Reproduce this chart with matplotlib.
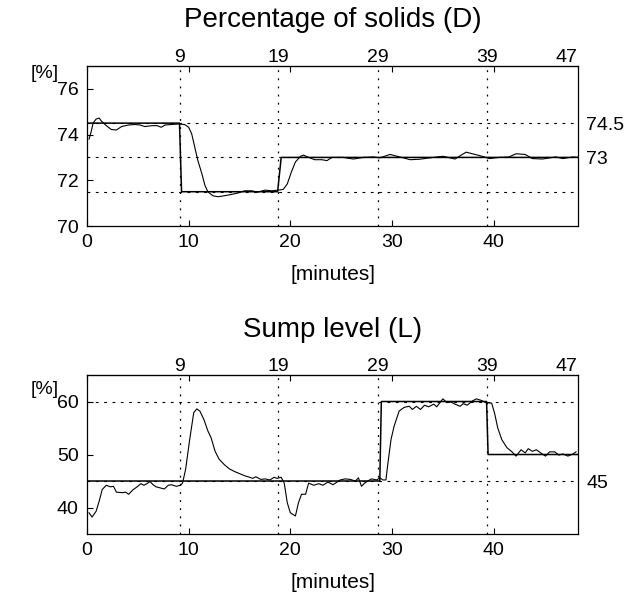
import numpy as np
import matplotlib
matplotlib.use("Agg")
import matplotlib.pyplot as plt

plt.rcParams['font.family'] = ['Liberation Sans', 'DejaVu Sans']

# ---- percentage of solids (D) ----
d_time = [0.2, 0.4, 0.6, 0.9, 1.2, 1.4, 1.9, 2.4, 2.9, 3.4, 4.1, 4.7, 5.2, 5.7, 6.4,
          6.9, 7.3, 7.7, 8.3, 9.0, 9.6, 10.0, 10.3, 10.6, 10.9, 11.3, 11.6, 11.9, 12.4,
          12.9, 13.6, 14.2, 14.9, 15.5, 16.2, 16.8, 17.5, 18.2, 18.8, 19.3, 19.7, 20.1,
          20.5, 21.0, 21.3, 21.8, 22.4, 23.1, 23.6, 24.1, 25.2, 26.2, 27.2, 28.2, 28.8,
          29.8, 30.5, 31.8, 32.7, 33.7, 35.0, 36.2, 36.8, 37.3, 37.9, 38.7, 39.6, 40.5,
          41.5, 42.2, 43.1, 43.8, 44.8, 46.1, 46.8, 47.8, 48.3]
d_value = [73.8, 74.1, 74.5, 74.68, 74.72, 74.6, 74.39, 74.22, 74.2, 74.35, 74.42, 74.44,
           74.42, 74.35, 74.39, 74.39, 74.32, 74.42, 74.44, 74.46, 74.44, 74.32, 74.03,
           73.45, 72.87, 72.29, 71.78, 71.49, 71.32, 71.28, 71.33, 71.38, 71.45, 71.54,
           71.54, 71.48, 71.57, 71.54, 71.57, 71.6, 71.84, 72.36, 72.8, 73.05, 73.1, 73.0,
           72.9, 72.9, 72.86, 73.0, 73.0, 72.93, 73.0, 73.02, 72.98, 73.13, 73.05, 72.9,
           72.92, 72.98, 73.05, 72.93, 73.1, 73.23, 73.16, 73.07, 72.95, 73.0, 73.02,
           73.16, 73.13, 72.95, 72.93, 73.02, 72.95, 73.02, 73.0]
d_sp_time = [0, 9.1, 9.3, 18.75, 19.1, 48.3]
d_sp_value = [74.5, 74.5, 71.5, 71.5, 73, 73]
d_hlines = [74.5, 73, 71.5]
d_right_ticks = [73, 74.5]
d_right_labels = ['73', '74.5']

# ---- sump level (L) ----
l_time = [0.2, 0.5, 0.9, 1.2, 1.5, 1.9, 2.3, 2.6, 2.9, 3.5, 3.8, 4.1, 4.5, 5.0, 5.3, 5.6,
          5.9, 6.2, 6.5, 6.8, 7.2, 7.6, 8.0, 8.3, 8.8, 9.2, 9.4, 9.7, 10.1, 10.5, 10.8,
          11.1, 11.5, 11.9, 12.2, 12.6, 13.0, 13.5, 14.0, 14.5, 15.0, 15.5, 16.0, 16.3,
          16.6, 17.1, 17.5, 18.0, 18.4, 18.7, 19.1, 19.4, 19.7, 20.0, 20.5, 20.8, 21.1,
          21.5, 21.8, 22.3, 22.8, 23.2, 23.7, 24.2, 24.9, 25.4, 25.9, 26.4, 26.7, 27.0,
          27.3, 27.7, 28.0, 28.5, 28.8, 29.1, 29.4, 29.6, 29.9, 30.2, 30.7, 31.2, 31.7,
          32.0, 32.4, 32.8, 33.2, 33.6, 34.1, 34.4, 35.0, 35.4, 35.8, 36.2, 36.7, 37.0,
          37.4, 37.9, 38.3, 38.8, 39.2, 39.8, 40.1, 40.4, 40.8, 41.3, 41.8, 42.2, 42.7,
          43.1, 43.4, 43.8, 44.2, 44.7, 45.1, 45.5, 46.0, 46.4, 46.8, 47.3, 47.8, 48.1]
l_value = [39.0, 38.2, 39.3, 41.2, 43.4, 44.2, 43.9, 44.0, 42.9, 42.8, 42.9, 42.5, 43.3,
           44.0, 44.5, 44.2, 44.5, 44.9, 44.3, 43.9, 43.7, 43.5, 44.2, 44.3, 44.0, 44.2,
           44.6, 47.2, 52.8, 57.9, 58.6, 58.2, 56.6, 54.4, 53.2, 50.6, 49.1, 48.1, 47.3,
           46.8, 46.4, 46.0, 45.7, 45.5, 45.8, 45.3, 45.4, 45.2, 45.7, 45.5, 45.7, 44.6,
           40.9, 39.0, 38.4, 40.9, 42.5, 42.5, 44.6, 44.2, 44.5, 44.2, 44.8, 44.3, 45.2,
           45.4, 45.3, 45.0, 45.6, 44.0, 44.6, 45.1, 45.4, 45.2, 45.6, 45.2, 45.2, 48.4,
           52.8, 55.3, 58.2, 58.9, 59.1, 58.5, 59.1, 58.5, 59.3, 59.0, 59.5, 59.0, 60.5,
           59.8, 59.9, 59.5, 59.1, 59.6, 59.3, 60.1, 60.5, 60.2, 59.8, 59.7, 57.7, 55.0,
           52.8, 51.3, 50.5, 49.7, 50.9, 50.3, 51.1, 50.6, 50.9, 50.2, 49.7, 50.5, 50.5,
           49.9, 50.1, 49.7, 50.1, 50.5]
l_sp_time = [0, 28.8, 28.95, 39.3, 39.45, 48.3]
l_sp_value = [45, 45, 60, 60, 50, 50]
l_hlines = [60, 45]
l_right_ticks = [45]
l_right_labels = ['45']

# shared
step_times = [9.1, 18.8, 28.6, 39.3, 47.2]
step_labels = ['9', '19', '29', '39', '47']
x_ticks = [0, 10, 20, 30, 40]

fig = plt.figure(figsize=(6.28, 5.96), dpi=100)
ax1 = fig.add_axes([0.1385, 0.6208, 0.782, 0.2685])
ax2 = fig.add_axes([0.1385, 0.1040, 0.782, 0.2668])


def setup(ax, t, v, spt, spv, hl, ylim, yticks, rticks, rlabels, title, title_y, pct_y):
    dash = (0, (2.5, 5))
    for h in hl:
        ax.axhline(h, color='black', lw=0.8, ls=dash, zorder=1)
    for s in step_times[:4]:
        ax.axvline(s, color='black', lw=0.9, ls=(0, (1.5, 5)), zorder=1)
    ax.plot(spt, spv, color='black', lw=1.1, zorder=3)
    ax.plot(t, v, color='black', lw=0.8, zorder=4)
    ax.set_xlim(0, 48.3)
    ax.set_ylim(*ylim)
    ax.set_xticks(x_ticks)
    ax.set_yticks(yticks)
    ax.tick_params(direction='in', length=4, width=0.8, top=True, right=True,
                   labelsize=14, pad=6)
    for sp in ax.spines.values():
        sp.set_linewidth(0.9)
    ax.set_xlabel('[minutes]', fontsize=15, labelpad=10)

    top = ax.secondary_xaxis('top')
    top.set_xticks(step_times)
    top.set_xticklabels(step_labels)
    top.tick_params(length=0, labelsize=14, pad=0)

    right = ax.twinx()
    right.set_ylim(*ylim)
    right.set_yticks(rticks)
    right.set_yticklabels(rlabels)
    right.tick_params(length=0, labelsize=14, pad=6)
    for sp in right.spines.values():
        sp.set_visible(False)

    fig.text(0.071, pct_y, '[%]', fontsize=14, ha='center', va='center')
    fig.text(0.53, title_y, title, fontsize=20, ha='center', va='center')


setup(ax1, d_time, d_value, d_sp_time, d_sp_value, d_hlines, (70, 77),
      [70, 72, 74, 76], d_right_ticks, d_right_labels,
      'Percentage of solids (D)', 0.967, 1 - 74 / 596)
setup(ax2, l_time, l_value, l_sp_time, l_sp_value, l_hlines, (35, 65),
      [40, 50, 60], l_right_ticks, l_right_labels,
      'Sump level (L)', 0.447, 1 - 390 / 596)

fig.savefig('out.png', dpi=100)
